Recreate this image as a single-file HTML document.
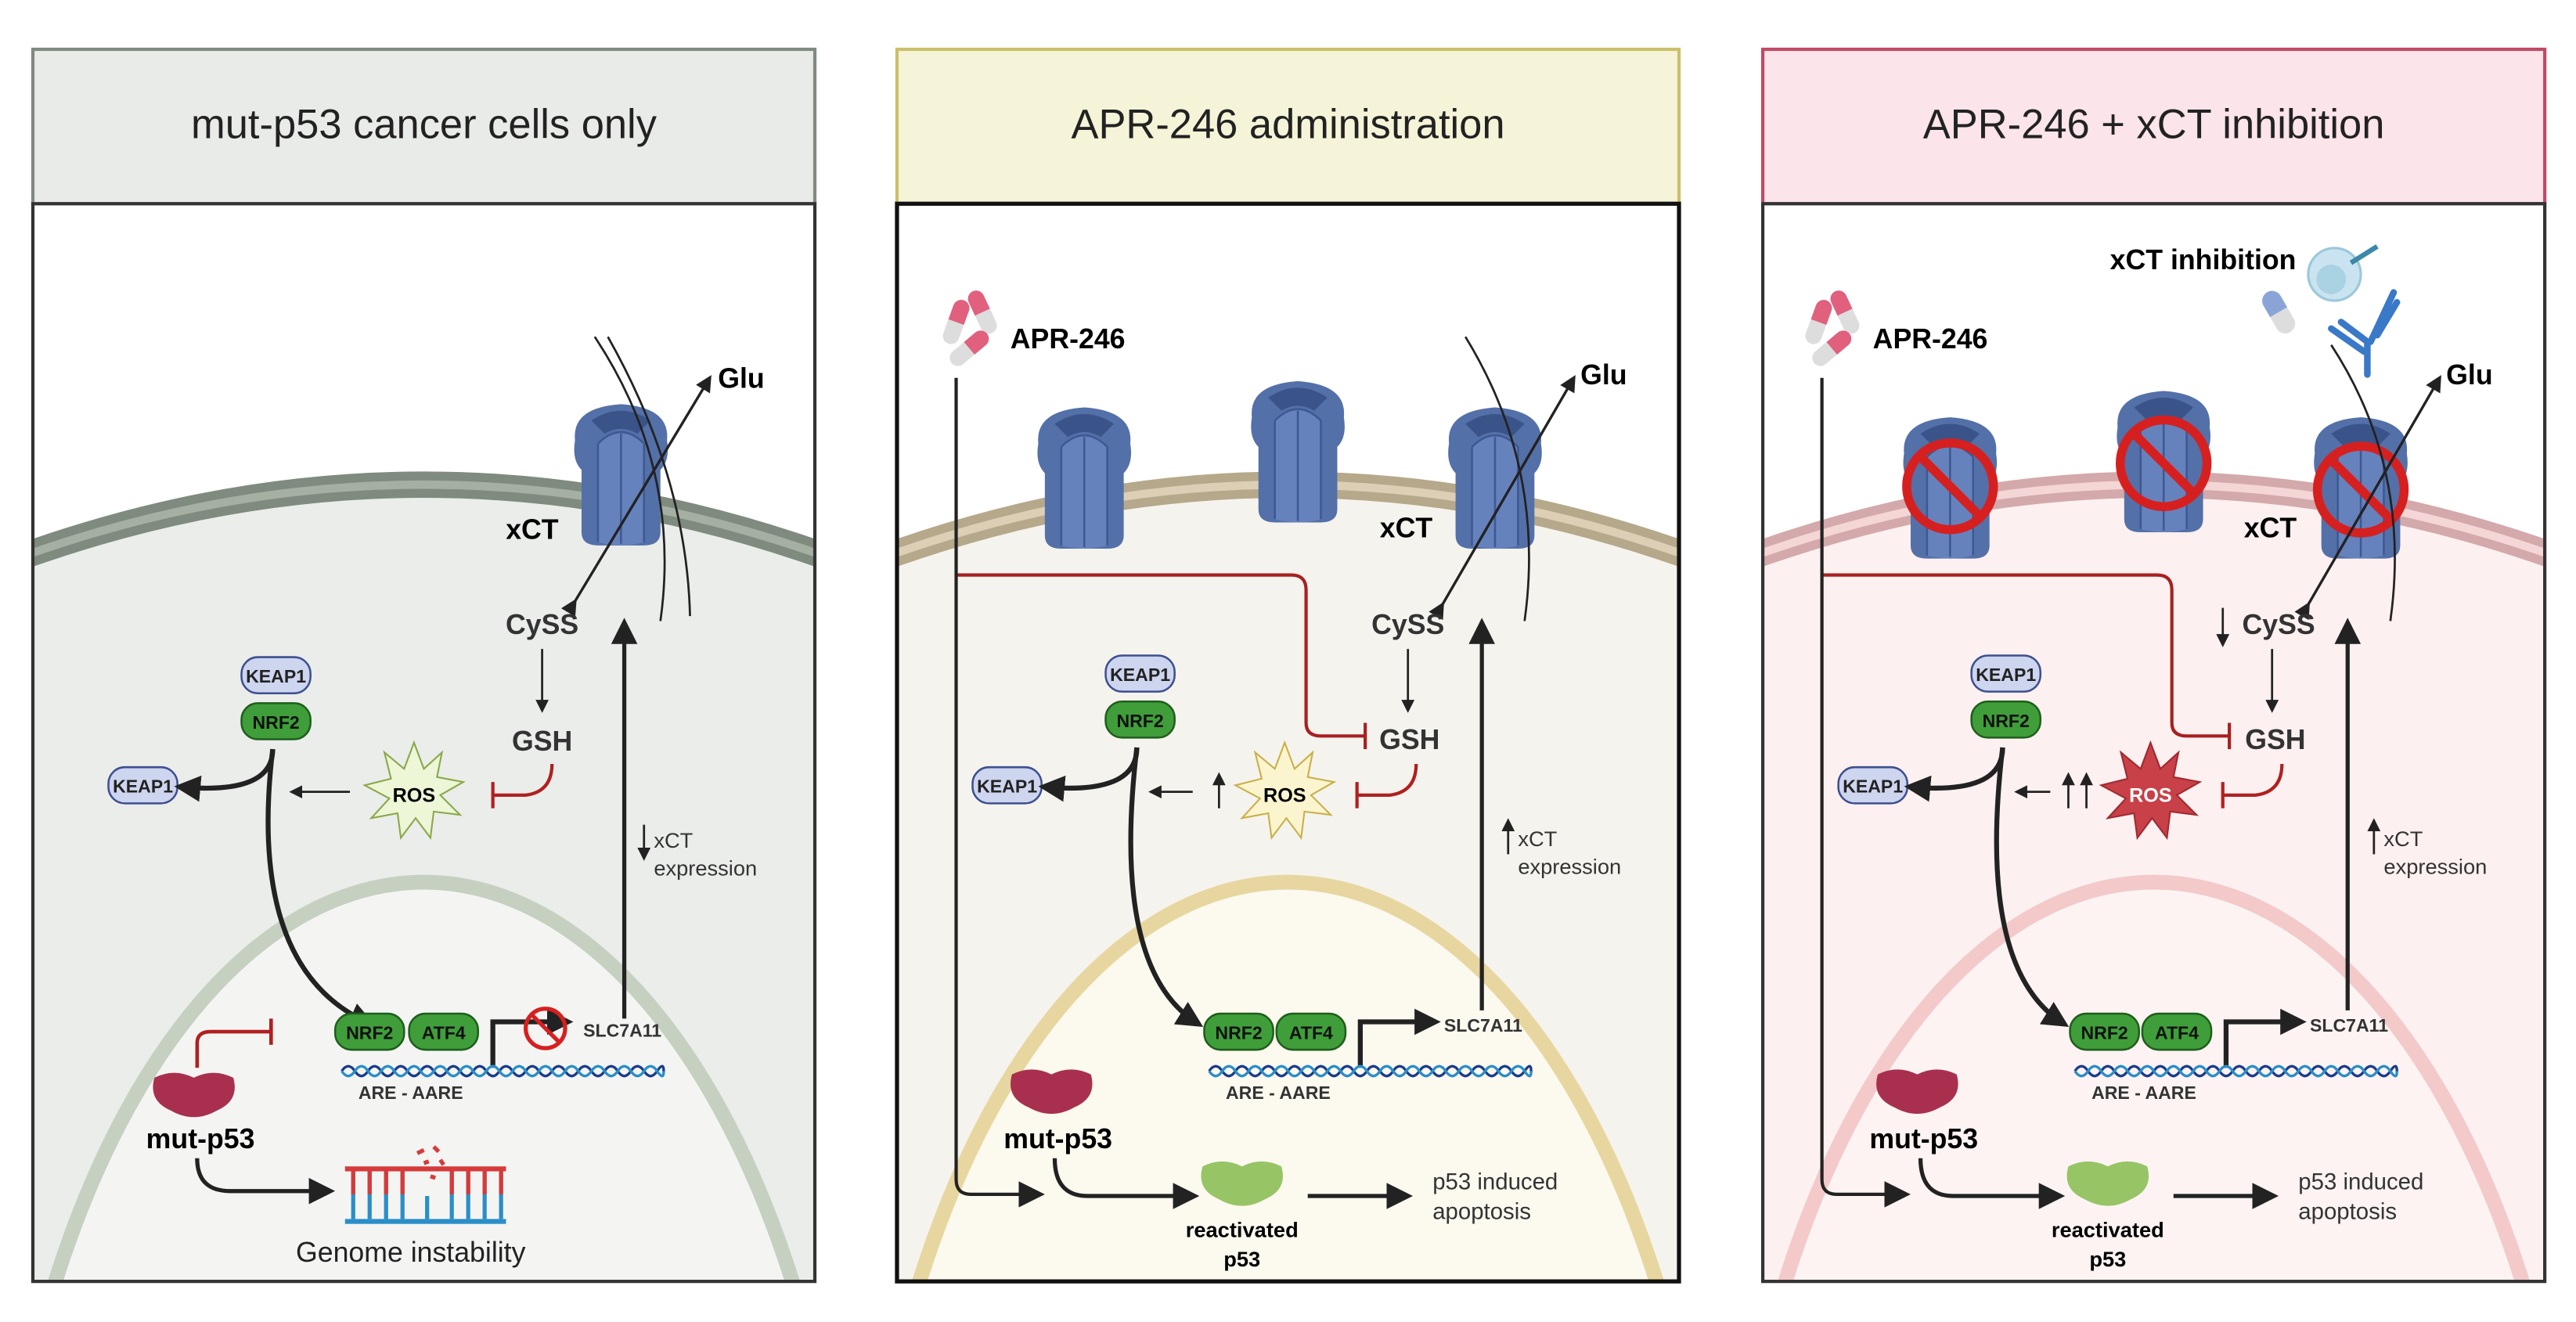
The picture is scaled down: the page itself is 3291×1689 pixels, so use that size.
<!DOCTYPE html>
<html><head><meta charset="utf-8"><style>
html,body{margin:0;padding:0;background:#fff;width:3291px;height:1689px;overflow:hidden}
svg{display:block}
text{font-family:"Liberation Sans",sans-serif}
</style></head><body>
<svg width="3291" height="1689" viewBox="0 0 1568 804.7" xmlns="http://www.w3.org/2000/svg">
<defs>
<marker id="ah" markerWidth="10" markerHeight="10" refX="8" refY="5" orient="auto" markerUnits="userSpaceOnUse" viewBox="0 0 10 10"><path d="M0,0 L10,5 L0,10 z" fill="#222"/></marker>
<marker id="ahb" markerWidth="16" markerHeight="16" refX="12" refY="8" orient="auto" markerUnits="userSpaceOnUse" viewBox="0 0 16 16"><path d="M0,0 L16,8 L0,16 z" fill="#222"/></marker>
<marker id="ahs" markerWidth="8" markerHeight="8" refX="6" refY="4" orient="auto" markerUnits="userSpaceOnUse" viewBox="0 0 8 8"><path d="M0,0 L8,4 L0,8 z" fill="#222"/></marker>
<g id="tp">
  <path d="M-28,-22 Q-30,-42 0,-44 Q30,-42 28,-22 Q30,-10 24,-4 L24,34 Q24,42 14,42 L-14,42 Q-24,42 -24,34 L-24,-4 Q-30,-10 -28,-22 z" fill="#5470a8"/>
  <path d="M-18,-34 Q0,-46 18,-34 L10,-26 Q0,-32 -10,-26 z" fill="#3a548a"/>
  <path d="M-14,-20 Q0,-34 14,-20 L14,40 Q0,44 -14,40 z" fill="#6582bd"/>
  <path d="M-14,-20 Q0,-34 14,-20 L14,40 M-14,-20 L-14,40 M0,-26 L0,41" stroke="#3e5892" stroke-width="1.2" fill="none"/>
</g>
<g id="no"><circle r="24" fill="none" stroke="#d62020" stroke-width="5"/><line x1="-17" y1="-17" x2="17" y2="17" stroke="#d62020" stroke-width="5"/></g>
<g id="dna">
  <path d="M0,0 q4,-6 8,0 t8,0 t8,0 t8,0 t8,0 t8,0 t8,0 t8,0 t8,0 t8,0 t8,0 t8,0 t8,0 t8,0 t8,0 t8,0 t8,0 t8,0 t8,0 t8,0 t8,0 t8,0 t8,0 t8,0 t4,0" fill="none" stroke="#1b3c8c" stroke-width="1.6"/>
  <path d="M0,0 q4,6 8,0 t8,0 t8,0 t8,0 t8,0 t8,0 t8,0 t8,0 t8,0 t8,0 t8,0 t8,0 t8,0 t8,0 t8,0 t8,0 t8,0 t8,0 t8,0 t8,0 t8,0 t8,0 t8,0 t8,0 t4,0" fill="none" stroke="#2a8ec8" stroke-width="1.6"/>
</g>
<g id="pills">
  <g transform="translate(-10,-4) rotate(20)"><rect x="-5" y="-14" width="10" height="28" rx="5" fill="#ddd"/><path d="M-5,0 V-9 a5,5 0 0 1 10,0 V0 z" fill="#e0607e"/></g>
  <g transform="translate(6,-10) rotate(-25)"><rect x="-5" y="-14" width="10" height="28" rx="5" fill="#ddd"/><path d="M-5,0 V-9 a5,5 0 0 1 10,0 V0 z" fill="#e0607e"/></g>
  <g transform="translate(-2,12) rotate(50)"><rect x="-5" y="-14" width="10" height="28" rx="5" fill="#ddd"/><path d="M-5,0 V-9 a5,5 0 0 1 10,0 V0 z" fill="#e0607e"/></g>
</g>
<g id="keap"><rect x="-21" y="-11" width="42" height="22" rx="10" fill="#cdd5ef" stroke="#3e4f8e" stroke-width="1.2"/><text y="4.5" text-anchor="middle" font-size="11" font-weight="bold" fill="#222">KEAP1</text></g>
<g id="nrf"><rect x="-21" y="-11" width="42" height="22" rx="10" fill="#3f9e3a" stroke="#1f5e1c" stroke-width="1.2"/><text y="4.5" text-anchor="middle" font-size="11" font-weight="bold" fill="#111">NRF2</text></g>
<g id="atf"><rect x="-21" y="-11" width="42" height="22" rx="10" fill="#3f9e3a" stroke="#1f5e1c" stroke-width="1.2"/><text y="4.5" text-anchor="middle" font-size="11" font-weight="bold" fill="#111">ATF4</text></g>
<path id="blob" d="M-24,-10 Q-12,-16 0,-10 Q12,-16 24,-10 Q28,4 14,10 Q0,18 -14,10 Q-28,4 -24,-10 z"/>
<polygon id="star" points="0,-30 6,-14 17,-24 14,-9 30,-6 16,2 28,14 12,12 10,28 1,16 -8,28 -10,13 -26,16 -15,4 -30,-4 -14,-8 -18,-24 -6,-14"/>
</defs>

<!-- PANEL 1 -->
<g transform="translate(20,0)">
  <rect x="0" y="30" width="476" height="94" fill="#e9ebe8" stroke="#7f8a80" stroke-width="2"/>
  <text x="238" y="84" text-anchor="middle" font-size="25" fill="#222">mut-p53 cancer cells only</text>
  <rect x="0" y="124" width="476" height="656" fill="#fff"/>
  <clipPath id="c1"><rect x="0" y="124" width="476" height="656"/></clipPath>
  <g clip-path="url(#c1)">
    <path d="M-60,360 Q238,230 536,360 L536,800 L-60,800 z" fill="#eaedea"/>
    <path d="M-60,360 Q238,230 536,360" fill="none" stroke="#7e8b7e" stroke-width="16"/>
    <path d="M-60,360 Q238,230 536,360" fill="none" stroke="#a5b0a3" stroke-width="5"/>
    <ellipse cx="238" cy="1040" rx="262" ry="503" fill="#f4f5f3" stroke="#c6d0c1" stroke-width="9"/>
  </g>
  <rect x="0" y="124" width="476" height="656" fill="none" stroke="#333" stroke-width="2"/>
  <use href="#tp" x="358" y="290"/>
  <path d="M342,205 Q395,285 382,378" fill="none" stroke="#222" stroke-width="1.3"/>
  <path d="M350,205 Q398,290 400,375" fill="none" stroke="#222" stroke-width="1.3"/>
  <line x1="330" y1="366" x2="412" y2="230" stroke="#222" stroke-width="1.6" marker-end="url(#ah)" marker-start="url(#ah)"/>
  <text x="417" y="236" font-size="17" font-weight="bold">Glu</text>
  <text x="320" y="328" text-anchor="end" font-size="17" font-weight="bold">xCT</text>
  <text x="310" y="386" text-anchor="middle" font-size="17" font-weight="bold" fill="#333">CySS</text>
  <line x1="310" y1="395" x2="310" y2="432" stroke="#222" stroke-width="1.3" marker-end="url(#ahs)"/>
  <text x="310" y="457" text-anchor="middle" font-size="17" font-weight="bold" fill="#333">GSH</text>
  <path d="M316,465 Q316,482 300,484 L280,484 M280,476 V492" fill="none" stroke="#b02020" stroke-width="2"/>
  <use href="#star" x="232" y="482" fill="#edf6d6" stroke="#8aa84a" stroke-width="1"/>
  <text x="232" y="488" text-anchor="middle" font-size="12" font-weight="bold">ROS</text>
  <line x1="193" y1="482" x2="158" y2="482" stroke="#222" stroke-width="1.3" marker-end="url(#ahs)"/>
  <use href="#keap" x="148" y="411"/><use href="#nrf" x="148" y="439"/>
  <use href="#keap" x="67" y="478"/>
  <path d="M146,456 Q146,484 90,479" fill="none" stroke="#222" stroke-width="3" marker-end="url(#ahb)"/>
  <path d="M146,456 Q130,590 205,623" fill="none" stroke="#222" stroke-width="3" marker-end="url(#ahb)"/>
  <use href="#nrf" x="205" y="628"/><use href="#atf" x="250" y="628"/>
  <path d="M280,650 V622 H325" fill="none" stroke="#222" stroke-width="3" marker-end="url(#ahb)"/>
  <use href="#no" transform="translate(312,626) scale(0.5)"/>
  <text x="335" y="631" font-size="11" font-weight="bold" fill="#333">SLC7A11</text>
  <use href="#dna" x="188" y="652"/>
  <text x="230" y="669" text-anchor="middle" font-size="11" font-weight="bold" fill="#333">ARE - AARE</text>
  <line x1="360" y1="620" x2="360" y2="380" stroke="#222" stroke-width="2.5" marker-end="url(#ahb)"/>
  <line x1="372" y1="502" x2="372" y2="522" stroke="#222" stroke-width="1.3" marker-end="url(#ahs)"/>
  <text x="378" y="516" font-size="13" fill="#333">xCT</text>
  <text x="378" y="533" font-size="13" fill="#333">expression</text>
  <path d="M100,650 V635 Q100,628 108,628 H145 M145,620 V636" fill="none" stroke="#b02020" stroke-width="2.2"/>
  <use href="#blob" x="98" y="666" fill="#a8304e"/>
  <text x="102" y="699" text-anchor="middle" font-size="17" font-weight="bold">mut-p53</text>
  <path d="M100,705 Q100,725 120,725 H180" fill="none" stroke="#222" stroke-width="2.5" marker-end="url(#ahb)"/>
  <g>
    <rect x="190" y="710" width="98" height="3" fill="#d63a3a"/>
    <rect x="190" y="742" width="98" height="3" fill="#2a8ec8"/>
    <g stroke-width="2.5"><path d="M195,713 V742 M205,713 V742 M215,713 V742 M225,713 V742 M255,713 V742 M265,713 V742 M275,713 V742 M285,713 V742" stroke="#2a8ec8"/><path d="M195,713 V727 M205,713 V727 M215,713 V727 M225,713 V727 M255,713 V727 M265,713 V727 M275,713 V727 M285,713 V727" stroke="#d63a3a"/><path d="M240,728 V742" stroke="#2a8ec8"/></g>
    <path d="M234,702 l4,-2 M244,698 l3,3 M238,708 l3,-1 M248,706 l2,3 M242,716 l3,1" stroke="#d63a3a" stroke-width="2.5"/>
  </g>
  <text x="230" y="768" text-anchor="middle" font-size="17" fill="#222">Genome instability</text>
</g>

<!-- PANEL 2 -->
<g transform="translate(546,0)">
  <rect x="0" y="30" width="476" height="94" fill="#f5f4d8" stroke="#cbbf6c" stroke-width="2"/>
  <text x="238" y="84" text-anchor="middle" font-size="25" fill="#222">APR-246 administration</text>
  <rect x="0" y="124" width="476" height="656" fill="#fff"/>
  <clipPath id="c2"><rect x="0" y="124" width="476" height="656"/></clipPath>
  <g clip-path="url(#c2)">
    <path d="M-60,360 Q238,230 536,360 L536,800 L-60,800 z" fill="#f5f3ee"/>
    <path d="M-60,360 Q238,230 536,360" fill="none" stroke="#b6a88a" stroke-width="16"/>
    <path d="M-60,360 Q238,230 536,360" fill="none" stroke="#dccfb6" stroke-width="5"/>
    <ellipse cx="238" cy="1040" rx="262" ry="503" fill="#fcf9ef" stroke="#e8d6a0" stroke-width="9"/>
  </g>
  <rect x="0" y="124" width="476" height="656" fill="none" stroke="#111" stroke-width="2.5"/>
  <use href="#pills" x="46" y="200"/>
  <text x="69" y="212" font-size="17" font-weight="bold">APR-246</text>
  <use href="#tp" x="114" y="292"/><use href="#tp" x="244" y="276"/><use href="#tp" x="364" y="292"/>
  <path d="M346,205 Q395,285 382,378" fill="none" stroke="#222" stroke-width="1.3"/>
  <path d="M332,368 L412,230" stroke="#222" stroke-width="1.6" marker-end="url(#ah)" marker-start="url(#ah)"/>
  <text x="416" y="234" font-size="17" font-weight="bold">Glu</text>
  <text x="326" y="327" text-anchor="end" font-size="17" font-weight="bold">xCT</text>
  <text x="311" y="386" text-anchor="middle" font-size="17" font-weight="bold" fill="#333">CySS</text>
  <line x1="311" y1="395" x2="311" y2="432" stroke="#222" stroke-width="1.3" marker-end="url(#ahs)"/>
  <text x="312" y="456" text-anchor="middle" font-size="17" font-weight="bold" fill="#333">GSH</text>
  <path d="M36,350 H240 Q249,350 249,359 V440 Q249,448 258,448 H285 M285,440 V456" fill="none" stroke="#a82020" stroke-width="2"/>
  <path d="M36,230 V718 Q36,727 45,727 H86" fill="none" stroke="#222" stroke-width="2" marker-end="url(#ahb)"/>
  <path d="M316,465 Q316,482 300,484 L280,484 M280,476 V492" fill="none" stroke="#b02020" stroke-width="2"/>
  <use href="#star" x="236" y="482" fill="#fbf5cf" stroke="#c9b04a" stroke-width="1"/>
  <text x="236" y="488" text-anchor="middle" font-size="12" font-weight="bold">ROS</text>
  <line x1="196" y1="492" x2="196" y2="472" stroke="#222" stroke-width="1.3" marker-end="url(#ahs)"/>
  <line x1="180" y1="482" x2="155" y2="482" stroke="#222" stroke-width="1.3" marker-end="url(#ahs)"/>
  <use href="#keap" x="148" y="410"/><use href="#nrf" x="148" y="438"/>
  <use href="#keap" x="67" y="478"/>
  <path d="M146,455 Q146,484 90,479" fill="none" stroke="#222" stroke-width="3" marker-end="url(#ahb)"/>
  <path d="M146,455 Q130,590 183,623" fill="none" stroke="#222" stroke-width="3" marker-end="url(#ahb)"/>
  <use href="#nrf" x="208" y="628"/><use href="#atf" x="252" y="628"/>
  <path d="M282,650 V622 H327" fill="none" stroke="#222" stroke-width="3" marker-end="url(#ahb)"/>
  <text x="333" y="628" font-size="11" font-weight="bold" fill="#333">SLC7A11</text>
  <use href="#dna" x="190" y="652"/>
  <text x="232" y="669" text-anchor="middle" font-size="11" font-weight="bold" fill="#333">ARE - AARE</text>
  <line x1="356" y1="615" x2="356" y2="380" stroke="#222" stroke-width="2.5" marker-end="url(#ahb)"/>
  <line x1="372" y1="520" x2="372" y2="500" stroke="#222" stroke-width="1.3" marker-end="url(#ahs)"/>
  <text x="378" y="515" font-size="13" fill="#333">xCT</text>
  <text x="378" y="532" font-size="13" fill="#333">expression</text>
  <use href="#blob" x="94" y="664" fill="#a8304e"/>
  <text x="98" y="699" text-anchor="middle" font-size="17" font-weight="bold">mut-p53</text>
  <path d="M96,705 Q96,728 116,728 H180" fill="none" stroke="#222" stroke-width="2.5" marker-end="url(#ahb)"/>
  <use href="#blob" x="210" y="720" fill="#97c566"/>
  <text x="210" y="753" text-anchor="middle" font-size="13" font-weight="bold">reactivated</text>
  <text x="210" y="771" text-anchor="middle" font-size="13" font-weight="bold">p53</text>
  <line x1="250" y1="728" x2="310" y2="728" stroke="#222" stroke-width="2.5" marker-end="url(#ahb)"/>
  <text x="326" y="724" font-size="14" fill="#333">p53 induced</text>
  <text x="326" y="742" font-size="14" fill="#333">apoptosis</text>
</g>

<!-- PANEL 3 -->
<g transform="translate(1073,0)">
  <rect x="0" y="30" width="476" height="94" fill="#fbe4ea" stroke="#c04a66" stroke-width="2"/>
  <text x="238" y="84" text-anchor="middle" font-size="25" fill="#222">APR-246 + xCT inhibition</text>
  <rect x="0" y="124" width="476" height="656" fill="#fff"/>
  <clipPath id="c3"><rect x="0" y="124" width="476" height="656"/></clipPath>
  <g clip-path="url(#c3)">
    <path d="M-60,360 Q238,230 536,360 L536,800 L-60,800 z" fill="#fdf0f0"/>
    <path d="M-60,360 Q238,230 536,360" fill="none" stroke="#d4a9ab" stroke-width="16"/>
    <path d="M-60,360 Q238,230 536,360" fill="none" stroke="#f5d6d6" stroke-width="5"/>
    <ellipse cx="238" cy="1040" rx="262" ry="503" fill="#fdf3f3" stroke="#f3c9c9" stroke-width="9"/>
  </g>
  <rect x="0" y="124" width="476" height="656" fill="none" stroke="#333" stroke-width="2"/>
  <use href="#pills" x="44" y="200"/>
  <text x="67" y="212" font-size="17" font-weight="bold">APR-246</text>
  <text x="268" y="164" text-anchor="middle" font-size="17" font-weight="bold">xCT inhibition</text>
  <circle cx="348" cy="167" r="16" fill="#c9e4f0" stroke="#9cc8da" stroke-width="1.5"/>
  <circle cx="346" cy="170" r="9" fill="#a9d2e3"/>
  <line x1="358" y1="160" x2="374" y2="150" stroke="#3b88a8" stroke-width="3"/>
  <g transform="translate(314,190) rotate(-30)"><rect x="-6" y="-14" width="12" height="28" rx="6" fill="#ddd"/><path d="M-6,0 V-8 a6,6 0 0 1 12,0 V0 z" fill="#8aa4d8"/></g>
  <path d="M352,196 L368,208 L368,228 M384,178 L370,208 M366,214 L346,200 M374,204 L386,184" stroke="#3a78c8" stroke-width="4" fill="none" stroke-linecap="round"/>
  <use href="#tp" x="114" y="298"/><use href="#tp" x="244" y="282"/><use href="#tp" x="364" y="298"/>
  <use href="#no" transform="translate(114,296) scale(1.1)"/><use href="#no" transform="translate(244,282) scale(1.1)"/><use href="#no" transform="translate(364,298) scale(1.1)"/>
  <path d="M346,210 Q395,285 382,378" fill="none" stroke="#222" stroke-width="1.3"/>
  <path d="M332,368 L412,230" stroke="#222" stroke-width="1.6" marker-end="url(#ah)" marker-start="url(#ah)"/>
  <text x="416" y="234" font-size="17" font-weight="bold">Glu</text>
  <text x="325" y="327" text-anchor="end" font-size="17" font-weight="bold">xCT</text>
  <line x1="280" y1="370" x2="280" y2="392" stroke="#222" stroke-width="1.3" marker-end="url(#ahs)"/>
  <text x="314" y="386" text-anchor="middle" font-size="17" font-weight="bold" fill="#333">CySS</text>
  <line x1="310" y1="395" x2="310" y2="432" stroke="#222" stroke-width="1.3" marker-end="url(#ahs)"/>
  <text x="312" y="456" text-anchor="middle" font-size="17" font-weight="bold" fill="#333">GSH</text>
  <path d="M36,350 H240 Q249,350 249,359 V440 Q249,448 258,448 H284 M284,440 V456" fill="none" stroke="#a82020" stroke-width="2"/>
  <path d="M36,230 V718 Q36,727 45,727 H86" fill="none" stroke="#222" stroke-width="2" marker-end="url(#ahb)"/>
  <path d="M316,465 Q316,482 300,484 L280,484 M280,476 V492" fill="none" stroke="#b02020" stroke-width="2"/>
  <use href="#star" x="236" y="482" fill="#c84048" stroke="#a02a30" stroke-width="1"/>
  <text x="236" y="488" text-anchor="middle" font-size="12" font-weight="bold" fill="#fff">ROS</text>
  <line x1="186" y1="492" x2="186" y2="472" stroke="#222" stroke-width="1.3" marker-end="url(#ahs)"/>
  <line x1="197" y1="492" x2="197" y2="472" stroke="#222" stroke-width="1.3" marker-end="url(#ahs)"/>
  <line x1="175" y1="482" x2="155" y2="482" stroke="#222" stroke-width="1.3" marker-end="url(#ahs)"/>
  <use href="#keap" x="148" y="410"/><use href="#nrf" x="148" y="438"/>
  <use href="#keap" x="67" y="478"/>
  <path d="M146,455 Q146,484 90,479" fill="none" stroke="#222" stroke-width="3" marker-end="url(#ahb)"/>
  <path d="M146,455 Q130,590 183,623" fill="none" stroke="#222" stroke-width="3" marker-end="url(#ahb)"/>
  <use href="#nrf" x="208" y="628"/><use href="#atf" x="252" y="628"/>
  <path d="M282,650 V622 H327" fill="none" stroke="#222" stroke-width="3" marker-end="url(#ahb)"/>
  <text x="333" y="628" font-size="11" font-weight="bold" fill="#333">SLC7A11</text>
  <use href="#dna" x="190" y="652"/>
  <text x="232" y="669" text-anchor="middle" font-size="11" font-weight="bold" fill="#333">ARE - AARE</text>
  <line x1="356" y1="615" x2="356" y2="380" stroke="#222" stroke-width="2.5" marker-end="url(#ahb)"/>
  <line x1="372" y1="520" x2="372" y2="500" stroke="#222" stroke-width="1.3" marker-end="url(#ahs)"/>
  <text x="378" y="515" font-size="13" fill="#333">xCT</text>
  <text x="378" y="532" font-size="13" fill="#333">expression</text>
  <use href="#blob" x="94" y="664" fill="#a8304e"/>
  <text x="98" y="699" text-anchor="middle" font-size="17" font-weight="bold">mut-p53</text>
  <path d="M96,705 Q96,728 116,728 H180" fill="none" stroke="#222" stroke-width="2.5" marker-end="url(#ahb)"/>
  <use href="#blob" x="210" y="720" fill="#97c566"/>
  <text x="210" y="753" text-anchor="middle" font-size="13" font-weight="bold">reactivated</text>
  <text x="210" y="771" text-anchor="middle" font-size="13" font-weight="bold">p53</text>
  <line x1="250" y1="728" x2="310" y2="728" stroke="#222" stroke-width="2.5" marker-end="url(#ahb)"/>
  <text x="326" y="724" font-size="14" fill="#333">p53 induced</text>
  <text x="326" y="742" font-size="14" fill="#333">apoptosis</text>
</g>
</svg>
</body></html>
